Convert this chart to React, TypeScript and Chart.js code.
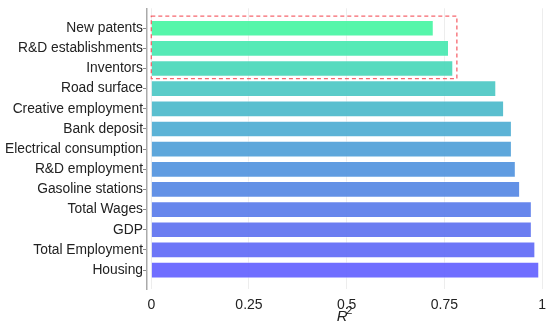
import React, { useEffect, useRef } from "react";
import { Chart, registerables } from "chart.js";

Chart.register(...registerables);

const categories = [
  "New patents",
  "R&D establishments",
  "Inventors",
  "Road surface",
  "Creative employment",
  "Bank deposit",
  "Electrical consumption",
  "R&D employment",
  "Gasoline stations",
  "Total Wages",
  "GDP",
  "Total Employment",
  "Housing",
];

const r2Values = [0.722, 0.761, 0.772, 0.882, 0.902, 0.922, 0.922, 0.932, 0.943, 0.973, 0.973, 0.982, 0.992];

const barColors = [
  "rgba(72,245,163,0.92)",
  "rgba(72,232,176,0.92)",
  "rgba(74,216,186,0.92)",
  "rgba(76,200,196,0.92)",
  "rgba(76,186,203,0.92)",
  "rgba(78,172,210,0.92)",
  "rgba(80,160,216,0.92)",
  "rgba(83,148,222,0.92)",
  "rgba(86,136,228,0.92)",
  "rgba(90,124,234,0.92)",
  "rgba(94,114,240,0.92)",
  "rgba(97,106,246,0.92)",
  "rgba(100,98,255,0.92)",
];

const xTicks = [0, 0.25, 0.5, 0.75, 1];
const xTickLabels = ["0", "0.25", "0.5", "0.75", "1"];

// highlighted group: first three categories, box reaching this R² value
const highlightFirst = 0;
const highlightLast = 2;
const highlightRight = 0.782;

const FONT = "'Liberation Sans', Arial, Helvetica, sans-serif";

export default function App() {
  const ref = useRef<HTMLCanvasElement | null>(null);

  useEffect(() => {
    document.body.style.margin = "0";
    const canvas = ref.current;
    if (!canvas) return;

    const overlay = {
      id: "overlay",
      afterDatasetsDraw(chart: any) {
        const { ctx, scales } = chart;
        const xs = scales.x;
        const ys = scales.y;
        const left = xs.getPixelForValue(0);
        const right = xs.getPixelForValue(highlightRight);
        const top = ys.getPixelForValue(highlightFirst - 0.6);
        const bottom = ys.getPixelForValue(highlightLast + 0.5);
        ctx.save();
        ctx.strokeStyle = "rgba(245,75,85,0.85)";
        ctx.lineWidth = 1.3;
        ctx.setLineDash([4, 3]);
        ctx.strokeRect(left, top, right - left, bottom - top);
        ctx.restore();
      },
      afterDraw(chart: any) {
        const { ctx, scales } = chart;
        const cx = scales.x.getPixelForValue(0.5);
        ctx.save();
        ctx.fillStyle = "#222";
        ctx.textBaseline = "alphabetic";
        ctx.textAlign = "left";
        ctx.font = `italic 15px ${FONT}`;
        ctx.fillText("R", cx - 10, 321);
        ctx.font = `11px ${FONT}`;
        ctx.fillText("2", cx - 0.5, 314);
        ctx.restore();
      },
    };

    const chart = new Chart(canvas, {
      type: "bar",
      data: {
        datasets: [
          {
            data: categories.map((c, i) => ({ x: r2Values[i], y: i })),
            backgroundColor: barColors,
            borderColor: "rgba(255,255,255,0.35)",
            borderWidth: 1,
            barThickness: 16,
          } as any,
        ],
      },
      options: {
        indexAxis: "y",
        responsive: false,
        animation: false,
        layout: { padding: { top: 7, right: 5, left: 0, bottom: 0 } },
        plugins: {
          legend: { display: false },
          tooltip: { enabled: false },
        },
        scales: {
          x: {
            type: "linear",
            min: -0.011,
            max: 1.01,
            afterFit(scale: any) {
              scale.height = 43;
            },
            afterBuildTicks(scale: any) {
              scale.ticks = xTicks.map((v) => ({ value: v }));
            },
            ticks: {
              padding: 8,
              color: "#222",
              font: { size: 14, family: FONT },
              callback: (v: any) => {
                const i = xTicks.indexOf(Number(v));
                return i >= 0 ? xTickLabels[i] : "";
              },
            },
            grid: { color: "rgba(0,0,0,0.07)", lineWidth: 1, drawTicks: false },
            border: { display: false },
          },
          y: {
            type: "linear",
            reverse: true,
            offset: false,
            min: -0.99,
            max: 12.94,
            afterFit(scale: any) {
              scale.width = 147;
            },
            afterBuildTicks(scale: any) {
              scale.ticks = categories.map((c, i) => ({ value: i }));
            },
            ticks: {
              padding: 0,
              color: "#222",
              font: { size: 13.8, family: FONT },
              autoSkip: false,
              callback: (v: any) => categories[Number(v)] ?? "",
            },
            grid: {
              offset: false,
              drawOnChartArea: false,
              drawTicks: true,
              tickLength: 4,
              tickColor: "#888",
            },
            border: { display: true, color: "#aaa", width: 1.5 },
          },
        },
      } as any,
      plugins: [overlay],
    });

    return () => chart.destroy();
  }, []);

  return (
    <div style={{ width: 554, height: 332 }}>
      <canvas ref={ref} width={554} height={332} style={{ display: "block" }} />
    </div>
  );
}
